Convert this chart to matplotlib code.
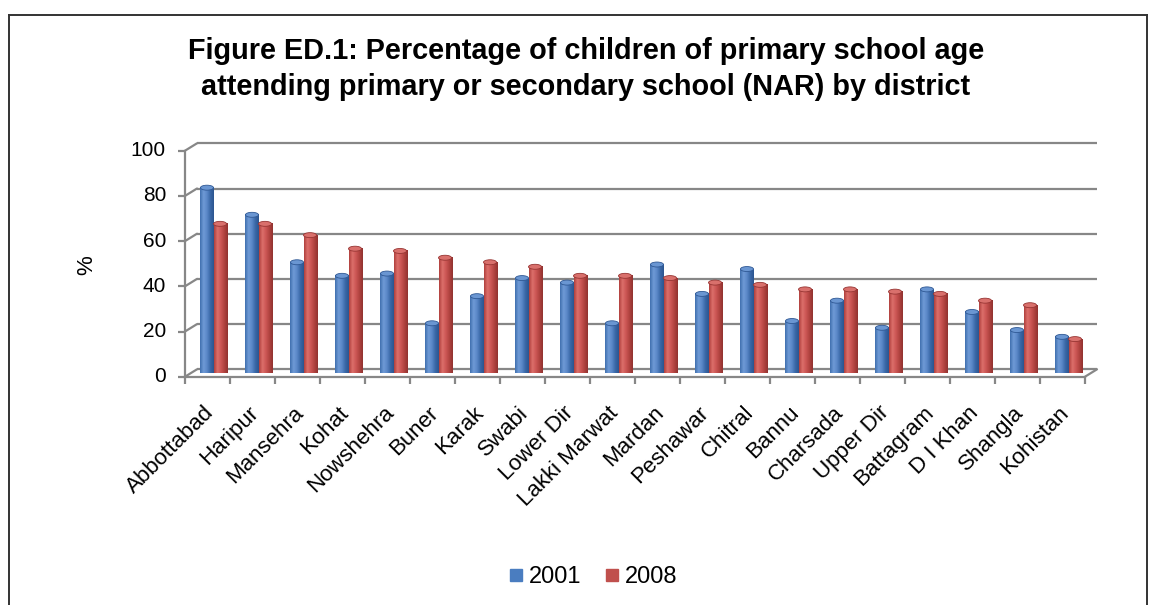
import numpy as np
import matplotlib
matplotlib.use("Agg")
import matplotlib.pyplot as plt
import matplotlib.transforms as mtransforms
from matplotlib.patches import Ellipse, ConnectionPatch
from matplotlib.colors import LinearSegmentedColormap
from matplotlib.lines import Line2D

districts = ["Abbottabad", "Haripur", "Mansehra", "Kohat", "Nowshehra", "Buner",
             "Karak", "Swabi", "Lower Dir", "Lakki Marwat", "Mardan", "Peshawar",
             "Chitral", "Bannu", "Charsada", "Upper Dir", "Battagram", "D I Khan",
             "Shangla", "Kohistan"]
nar_2001 = [82, 70, 49, 43, 44, 22, 34, 42, 40, 22, 48, 35, 46, 23, 32, 20, 37, 27, 19, 16]
nar_2008 = [66, 66, 61, 55, 54, 51, 49, 47, 43, 43, 42, 40, 39, 37, 37, 36, 35, 32, 30, 15]
series_names = ["2001", "2008"]
y_ticks = [0, 20, 40, 60, 80, 100]

FONT = "Liberation Sans"
DPI = 100
fig = plt.figure(figsize=(11.5, 6.05), dpi=DPI)
W, H = 1150, 605

# mid-depth plane of the pseudo-3D plot area (pixel geometry)
left_px, right_px, zero_px, top_px = 191, 1091, 373, 147
ax = fig.add_axes([left_px / W, (H - zero_px) / H,
                   (right_px - left_px) / W, (zero_px - top_px) / H])
ax.set_axis_off()
n = len(districts)
ax.set_xlim(-0.5, n - 0.5)
ax.set_ylim(0, 100)

# front and back planes, shifted by the chart depth
dx, dy = 6, 3.7
front = mtransforms.offset_copy(ax.transData, fig=fig, x=-dx, y=-dy, units="dots")
back = mtransforms.offset_copy(ax.transData, fig=fig, x=dx, y=dy, units="dots")

grid_c = "#878787"
glw = 1.6
x0, x1 = -0.5, n - 0.5

# back wall gridlines and side-wall diagonals
for v in y_ticks:
    ax.plot([x0, x1], [v, v], transform=back, color=grid_c, lw=glw, zorder=1,
            solid_capstyle="butt", clip_on=False)
    cp = ConnectionPatch(xyA=(x0, v), coordsA=front, xyB=(x0, v), coordsB=back,
                         color=grid_c, lw=glw, zorder=1)
    ax.add_artist(cp)

# floor: front edge and right diagonal
ax.plot([x0, x1], [0, 0], transform=front, color=grid_c, lw=glw, zorder=1, clip_on=False)
ax.add_artist(ConnectionPatch(xyA=(x1, 0), coordsA=front, xyB=(x1, 0), coordsB=back,
                              color=grid_c, lw=glw, zorder=1))

# value axis on the front plane
ax.plot([x0, x0], [0, 100], transform=front, color=grid_c, lw=glw, zorder=5, clip_on=False)
ytick_tf = mtransforms.offset_copy(front, fig=fig, x=-19, y=0, units="dots")
for v in y_ticks:
    ax.plot([x0], [v], transform=front, marker=0, markersize=5, mew=glw,
            color=grid_c, zorder=5, clip_on=False)
    ax.text(x0, v, str(v), transform=ytick_tf, ha="right", va="center",
            fontsize=15, family=FONT, color="black")

# category ticks on the front floor edge
for k in range(n + 1):
    ax.plot([k - 0.5], [0], transform=front, marker=3, markersize=5, mew=glw,
            color=grid_c, zorder=5, clip_on=False)

# category labels
label_tf = mtransforms.offset_copy(front, fig=fig, x=3, y=-33, units="dots")
for i, name in enumerate(districts):
    ax.text(i, 0, name, transform=label_tf, rotation=45, rotation_mode="anchor",
            ha="right", va="center", fontsize=16, family=FONT, color="black")

# cylinder-like columns
blue_cmap = LinearSegmentedColormap.from_list(
    "b", ["#3f6fae", "#6f9ad6", "#5a88c8", "#3a67a6", "#2c5590"])
red_cmap = LinearSegmentedColormap.from_list(
    "r", ["#b0403d", "#dc6f6b", "#cc5654", "#b04340", "#913230"])
cap_blue, cap_red = "#6a96d2", "#d9706c"
bw, off = 0.29, 0.145
grad = np.linspace(0, 1, 64).reshape(1, -1)
cap_h = 2.2

for vals, shift, cmap, capc in [(nar_2001, -off, blue_cmap, cap_blue),
                                (nar_2008, off, red_cmap, cap_red)]:
    for i, v in enumerate(vals):
        xc = i + shift
        ax.imshow(grad, extent=(xc - bw / 2, xc + bw / 2, 0, v), cmap=cmap,
                  aspect="auto", interpolation="bilinear", zorder=3)
        ax.add_patch(Ellipse((xc, 0), bw, cap_h, facecolor=cmap(0.9), edgecolor="none", zorder=2.9))
        ax.add_patch(Ellipse((xc, v), bw, cap_h, facecolor=capc, edgecolor=cmap(0.95),
                             lw=0.6, zorder=4))

ax.set_xlim(-0.5, n - 0.5)
ax.set_ylim(0, 100)

# axis title
fig.text(87 / W, 1 - 265 / H, "%", rotation=90, ha="center", va="center",
         fontsize=16, family=FONT)

# chart title
fig.text(586 / W, 1 - 69 / H,
         "Figure ED.1: Percentage of children of primary school age\n"
         "attending primary or secondary school (NAR) by district",
         ha="center", va="center", fontsize=20.8, fontweight="bold", family=FONT,
         linespacing=1.32)

# legend
handles = [Line2D([], [], ls="none", marker="s", markersize=9, color=c)
           for c in ["#4a7dc0", "#c0504d"]]
fig.legend(handles, series_names, loc="center", bbox_to_anchor=(592 / W, 1 - 577 / H),
           ncol=2, frameon=False, handletextpad=0.15, columnspacing=0.9,
           handlelength=0.8, prop={"family": FONT, "size": 17})

# outer frame
for xs, ys in [([9, 9], [15, H]), ([9, 1147], [15, 15]), ([1147, 1147], [15, H])]:
    fig.add_artist(Line2D([x / W for x in xs], [1 - y / H for y in ys],
                          transform=fig.transFigure, color="#333333", lw=1.4))

fig.savefig("out.png", dpi=DPI)
